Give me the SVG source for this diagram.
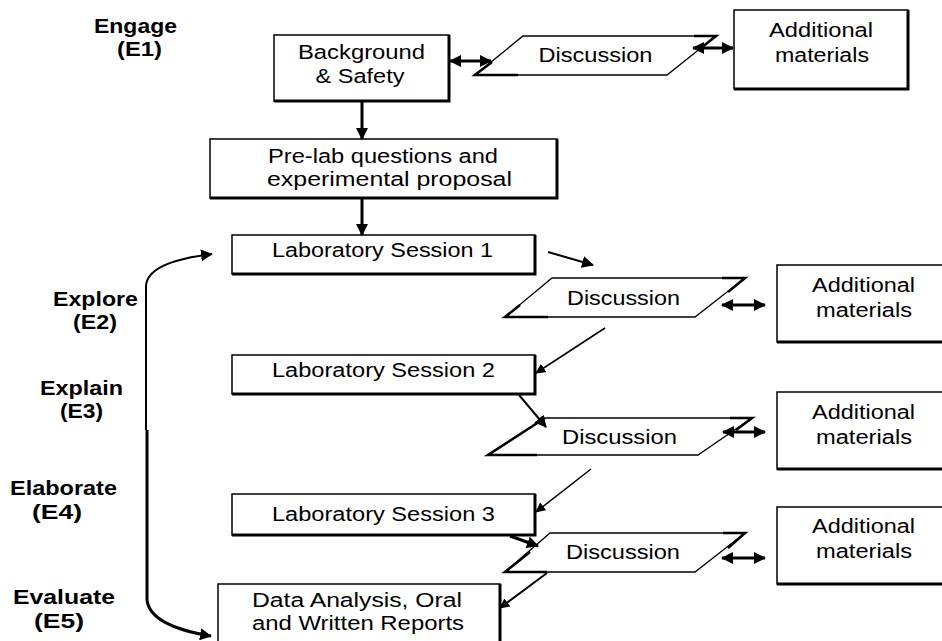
<svg xmlns="http://www.w3.org/2000/svg" width="942" height="641" viewBox="0 0 942 641">
<defs>
<marker id="ah" viewBox="0 0 12 12" refX="11" refY="6" markerWidth="12" markerHeight="12" markerUnits="userSpaceOnUse" orient="auto-start-reverse">
<path d="M0,0 L12,6 L0,12 Z" fill="#000"/>
</marker>
<marker id="ahs" viewBox="0 0 12 12" refX="11" refY="6" markerWidth="10" markerHeight="10" markerUnits="userSpaceOnUse" orient="auto-start-reverse">
<path d="M0,0 L12,6 L0,12 Z" fill="#000"/>
</marker>
</defs>
<style>
text{font-family:"Liberation Sans",Arial,sans-serif;fill:#000}
.t{font-size:19.5px;text-anchor:middle}
.lab{font-size:20px;font-weight:bold;text-anchor:middle}
.box{fill:#fff;stroke:#000;stroke-width:1.5}
.sh{fill:none;stroke:#000;stroke-width:3}
.par{fill:#fff;stroke:#000;stroke-width:1.3}
.mk{fill:none;stroke:#000;stroke-width:2.6}
.c3{fill:none;stroke:#000;stroke-width:3}
.c2{fill:none;stroke:#000;stroke-width:2}
.c1{fill:none;stroke:#000;stroke-width:1.5}
</style>
<rect width="942" height="641" fill="#fff"/>

<g id="labels">
<text class="lab" x="135.5" y="33" textLength="83" lengthAdjust="spacingAndGlyphs">Engage</text>
<text class="lab" x="139.5" y="56" textLength="45" lengthAdjust="spacingAndGlyphs">(E1)</text>
<text class="lab" x="95.5" y="306" textLength="85" lengthAdjust="spacingAndGlyphs">Explore</text>
<text class="lab" x="95" y="329" textLength="44" lengthAdjust="spacingAndGlyphs">(E2)</text>
<text class="lab" x="81.5" y="395" textLength="83" lengthAdjust="spacingAndGlyphs">Explain</text>
<text class="lab" x="81.5" y="418" textLength="43" lengthAdjust="spacingAndGlyphs">(E3)</text>
<text class="lab" x="63.5" y="495" textLength="107" lengthAdjust="spacingAndGlyphs">Elaborate</text>
<text class="lab" x="57" y="519" textLength="50" lengthAdjust="spacingAndGlyphs">(E4)</text>
<text class="lab" x="64" y="604" textLength="102" lengthAdjust="spacingAndGlyphs">Evaluate</text>
<text class="lab" x="59" y="628" textLength="50" lengthAdjust="spacingAndGlyphs">(E5)</text>
</g>

<g id="background">
<rect class="box" x="274" y="35" width="175" height="66"/>
<polyline class="sh" points="449,35 449,101 274,101"/>
<text class="t" x="361.5" y="59" textLength="127" lengthAdjust="spacingAndGlyphs">Background</text>
<text class="t" x="360" y="83" textLength="89" lengthAdjust="spacingAndGlyphs">&amp; Safety</text>
</g>

<g id="discussion1">
<polygon class="par" points="523,36 716,36 667,75 475,75"/>
<path class="mk" d="M518,75 L475,75 L492,62 M694,36 L716,36 L701,48"/>
<text class="t" x="595.5" y="62" textLength="114" lengthAdjust="spacingAndGlyphs">Discussion</text>
</g>

<g id="additional1">
<rect class="box" x="734" y="10" width="174" height="79"/>
<polyline class="sh" points="908,10 908,89 734,89"/>
<text class="t" x="821" y="37" textLength="104" lengthAdjust="spacingAndGlyphs">Additional</text>
<text class="t" x="822" y="62" textLength="94" lengthAdjust="spacingAndGlyphs">materials</text>
</g>

<g id="prelab">
<rect class="box" x="210" y="139" width="347" height="59"/>
<polyline class="sh" points="557,139 557,198 210,198"/>
<text class="t" x="383" y="163" textLength="230" lengthAdjust="spacingAndGlyphs">Pre-lab questions and</text>
<text class="t" x="389.5" y="186" textLength="245" lengthAdjust="spacingAndGlyphs">experimental proposal</text>
</g>

<g id="lab1">
<rect class="box" x="232" y="235" width="303" height="39"/>
<polyline class="sh" points="535,235 535,274 232,274"/>
<text class="t" x="382.5" y="257" textLength="221" lengthAdjust="spacingAndGlyphs">Laboratory Session 1</text>
</g>

<g id="discussion2">
<polygon class="par" points="552,278 745,278 695,317 505,317"/>
<path class="mk" d="M548,317 L505,317 L520,305 M722,278 L745,278 L728,292"/>
<text class="t" x="623.5" y="305" textLength="113" lengthAdjust="spacingAndGlyphs">Discussion</text>
</g>

<g id="additional2">
<rect class="box" x="777" y="265" width="175" height="77"/>
<polyline class="sh" points="777,342 952,342"/>
<text class="t" x="863.5" y="292" textLength="103" lengthAdjust="spacingAndGlyphs">Additional</text>
<text class="t" x="864" y="317" textLength="96" lengthAdjust="spacingAndGlyphs">materials</text>
</g>

<g id="lab2">
<rect class="box" x="232" y="355" width="303" height="39"/>
<polyline class="sh" points="535,355 535,394 232,394"/>
<text class="t" x="383.5" y="377" textLength="223" lengthAdjust="spacingAndGlyphs">Laboratory Session 2</text>
</g>

<g id="discussion3">
<polygon class="par" points="545,418 752,418 698,455 488,455"/>
<path class="mk" d="M537,455 L488,455 L545,418 M730,418 L752,418 L736,430"/>
<text class="t" x="619.5" y="444" textLength="115" lengthAdjust="spacingAndGlyphs">Discussion</text>
</g>

<g id="additional3">
<rect class="box" x="777" y="392" width="175" height="77"/>
<polyline class="sh" points="777,469 952,469"/>
<text class="t" x="863.5" y="419" textLength="103" lengthAdjust="spacingAndGlyphs">Additional</text>
<text class="t" x="864" y="444" textLength="96" lengthAdjust="spacingAndGlyphs">materials</text>
</g>

<g id="lab3">
<rect class="box" x="232" y="494" width="303" height="41"/>
<polyline class="sh" points="535,494 535,535 232,535"/>
<text class="t" x="383.5" y="521" textLength="223" lengthAdjust="spacingAndGlyphs">Laboratory Session 3</text>
</g>

<g id="discussion4">
<polygon class="par" points="550,533 745,533 695,572 505,572"/>
<path class="mk" d="M547,572 L505,572 L530,552 M723,533 L745,533 L728,548"/>
<text class="t" x="623" y="559" textLength="114" lengthAdjust="spacingAndGlyphs">Discussion</text>
</g>

<g id="additional4">
<rect class="box" x="777" y="507" width="175" height="77"/>
<polyline class="sh" points="777,584 952,584"/>
<text class="t" x="863.5" y="533" textLength="103" lengthAdjust="spacingAndGlyphs">Additional</text>
<text class="t" x="864" y="558" textLength="96" lengthAdjust="spacingAndGlyphs">materials</text>
</g>

<g id="reports">
<rect class="box" x="218" y="584" width="282" height="58"/>
<polyline class="sh" points="500,584 500,642"/>
<text class="t" x="357" y="607" textLength="210" lengthAdjust="spacingAndGlyphs">Data Analysis, Oral</text>
<text class="t" x="358" y="630" textLength="212" lengthAdjust="spacingAndGlyphs">and Written Reports</text>
</g>

<g id="connectors">
<line class="c3" x1="362" y1="101" x2="362" y2="139" marker-end="url(#ah)"/>
<line class="c3" x1="362" y1="198" x2="362" y2="235" marker-end="url(#ah)"/>
<line class="c3" x1="450" y1="61" x2="491" y2="61" marker-start="url(#ah)" marker-end="url(#ah)"/>
<line class="c3" x1="693" y1="48" x2="733" y2="48" marker-start="url(#ah)" marker-end="url(#ah)"/>
<line class="c2" x1="548" y1="252" x2="593" y2="265" marker-end="url(#ah)"/>
<line class="c3" x1="722" y1="305" x2="765" y2="305" marker-start="url(#ah)" marker-end="url(#ah)"/>
<line class="c1" x1="605" y1="328" x2="536" y2="373" marker-end="url(#ahs)"/>
<line class="c2" x1="519" y1="395" x2="546" y2="427" marker-end="url(#ah)"/>
<line class="c3" x1="723" y1="432" x2="765" y2="432" marker-start="url(#ah)" marker-end="url(#ah)"/>
<line class="c1" x1="591" y1="469" x2="536" y2="512" marker-end="url(#ahs)"/>
<line class="c3" x1="510" y1="536" x2="538" y2="546" marker-end="url(#ah)"/>
<line class="c3" x1="722" y1="558" x2="765" y2="558" marker-start="url(#ah)" marker-end="url(#ah)"/>
<line class="c2" x1="547" y1="573" x2="500" y2="608" marker-end="url(#ahs)"/>
<path class="c2" d="M146,300 L146,286 Q147,262 212,254" marker-end="url(#ah)"/>
<path class="c2" d="M146,295 L146,430"/>
<path class="c3" d="M147,430 L147,600 Q150,626 211,636" marker-end="url(#ah)"/>
</g>
</svg>
